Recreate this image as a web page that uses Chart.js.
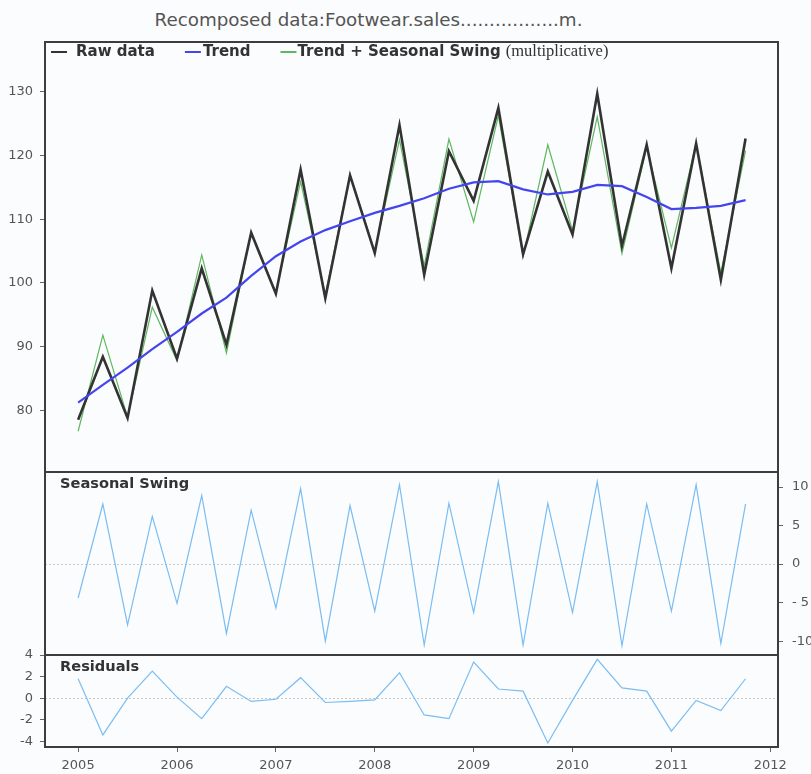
<!DOCTYPE html>
<html>
<head>
<meta charset="utf-8">
<script src="https://cdn.jsdelivr.net/npm/chart.js@4.4.1/dist/chart.umd.min.js"></script>
<style>
  html, body { margin: 0; padding: 0; background: #fbfcfd; }
  #wrap { position: relative; width: 811px; height: 774px; overflow: hidden; }
  #wrap canvas { position: absolute; left: 0; top: 0; }
  #title {
    position: absolute; left: 0; top: 9px; width: 737px; text-align: center;
    font: 18.3px "DejaVu Sans", sans-serif; color: #555; line-height: 22px; white-space: nowrap;
  }
</style>
</head>
<body>
<div id="wrap">
  <div id="title">Recomposed data:Footwear.sales.................m.</div>
  <canvas id="mainChart" width="811" height="774"></canvas>
  <canvas id="seasonChart" width="811" height="774"></canvas>
  <canvas id="residChart" width="811" height="774"></canvas>
</div>
<script>
// Quarterly periods
const quarters = [
  '2005Q1','2005Q2','2005Q3','2005Q4',
  '2006Q1','2006Q2','2006Q3','2006Q4',
  '2007Q1','2007Q2','2007Q3','2007Q4',
  '2008Q1','2008Q2','2008Q3','2008Q4',
  '2009Q1','2009Q2','2009Q3','2009Q4',
  '2010Q1','2010Q2','2010Q3','2010Q4',
  '2011Q1','2011Q2','2011Q3','2011Q4'
];

// Footwear sales, raw quarterly values
const rawData = [78.5, 88.4, 78.8, 98.8, 88.1, 102.3, 90.3, 107.9,
                 98.3, 117.8, 97.6, 116.9, 104.7, 124.8, 101.3, 120.7,
                 112.9, 127.5, 104.5, 117.5, 107.6, 129.7, 105.8, 121.7,
                 102.3, 121.9, 100.5, 122.7];

// Trend component
const trendData = [81.2, 84.0, 86.7, 89.6, 92.3, 95.2, 97.7, 101.1,
                   104.2, 106.5, 108.3, 109.7, 111.0, 112.1, 113.3, 114.8,
                   115.8, 116.0, 114.7, 113.9, 114.3, 115.4, 115.2, 113.5,
                   111.6, 111.8, 112.1, 113.0];

// Trend with seasonal swing applied
const trendSeasonalData = [76.7, 91.8, 78.9, 96.2, 87.8, 104.4, 89.0, 108.0,
                           98.5, 115.9, 98.2, 117.1, 104.9, 122.5, 102.7, 122.6,
                           109.6, 126.3, 104.2, 121.7, 108.2, 126.1, 104.6, 121.3,
                           105.5, 121.9, 101.6, 120.8];

// Seasonal swing component
const seasonalData = [-4.4, 7.8, -7.9, 6.2, -5.1, 8.9, -9.0, 7.0,
                      -5.7, 9.8, -10.0, 7.6, -6.1, 10.3, -10.5, 7.9,
                      -6.3, 10.7, -10.5, 7.9, -6.3, 10.7, -10.6, 7.8,
                      -6.1, 10.3, -10.3, 7.8];

// Residual component
const residualData = [1.8, -3.4, 0.0, 2.5, 0.1, -1.9, 1.1, -0.3,
                      -0.1, 1.9, -0.4, -0.3, -0.15, 2.35, -1.55, -1.9,
                      3.35, 0.85, 0.65, -4.15, -0.2, 3.6, 0.95, 0.65,
                      -3.05, -0.2, -1.15, 1.8];

// Axis ticks
const yearTicks = [2005, 2006, 2007, 2008, 2009, 2010, 2011, 2012];
const mainTicks = [80, 90, 100, 110, 120, 130];
const seasonalTicks = [-10, -5, 0, 5, 10];
const seasonalTickLabels = ['-10', '- 5', '0', '5', '10'];
const residualTicks = [-4, -2, 0, 2, 4];

// Convert a "YYYYQn" label to a decimal year position
function periodValue(q) {
  return parseInt(q.slice(0, 4), 10) + (parseInt(q.slice(5), 10) - 1) / 4;
}
function toPoints(values) {
  return values.map((v, i) => ({ x: periodValue(quarters[i]), y: v }));
}

Chart.defaults.font.family = '"DejaVu Sans", sans-serif';
Chart.defaults.font.size = 12;
Chart.defaults.color = '#555';

const X_MIN = 2004.665, X_MAX = 2012.078;
const FRAME = '#3d3d3d';

// Frame around each panel, optional dotted zero line and caption
const panelPlugin = {
  id: 'panel',
  beforeDatasetsDraw(chart, args, opts) {
    const { ctx, chartArea: a } = chart;
    if (opts.zeroLine) {
      const y = chart.scales.y.getPixelForValue(0);
      ctx.save();
      ctx.strokeStyle = '#c8c8c8';
      ctx.lineWidth = 1;
      ctx.setLineDash([2, 2]);
      ctx.beginPath();
      ctx.moveTo(a.left, Math.round(y) + 0.5);
      ctx.lineTo(a.right, Math.round(y) + 0.5);
      ctx.stroke();
      ctx.restore();
    }
  },
  afterDraw(chart, args, opts) {
    const { ctx, chartArea: a } = chart;
    ctx.save();
    ctx.strokeStyle = FRAME;
    ctx.lineWidth = 2;
    ctx.strokeRect(a.left, a.top, a.right - a.left, a.bottom - a.top);
    if (opts.caption) {
      ctx.fillStyle = '#333';
      ctx.font = 'bold 14.6px "DejaVu Sans", sans-serif';
      ctx.textBaseline = 'alphabetic';
      ctx.fillText(opts.caption, a.left + 15, a.top + 16);
    }
    ctx.restore();
  }
};

// Legend drawn inside the top-left corner of the main panel
const insideLegend = {
  id: 'insideLegend',
  afterDraw(chart, args, opts) {
    const { ctx, chartArea: a } = chart;
    const y = a.top + 10;
    let x = a.left + 6;
    ctx.save();
    ctx.textBaseline = 'middle';
    opts.items.forEach((idx, k) => {
      const ds = chart.data.datasets[idx];
      ctx.strokeStyle = ds.borderColor;
      ctx.lineWidth = 2;
      ctx.beginPath();
      ctx.moveTo(x, y);
      ctx.lineTo(x + 16, y);
      ctx.stroke();
      x += 16 + opts.gaps[k];
      ctx.fillStyle = '#333';
      ctx.font = 'bold 15px "DejaVu Sans", sans-serif';
      ctx.fillText(ds.label, x, y);
      x += ctx.measureText(ds.label).width;
      if (ds.note) {
        x += 5;
        ctx.font = '16.5px "Liberation Serif", serif';
        ctx.fillText(ds.note, x, y);
        x += ctx.measureText(ds.note).width;
      }
      x += 30;
    });
    ctx.restore();
  }
};

function xScale(show) {
  return {
    type: 'linear',
    min: X_MIN,
    max: X_MAX,
    display: show,
    afterBuildTicks(s) { s.ticks = yearTicks.map(v => ({ value: v })); },
    afterFit(s) { if (show) s.height = 27; },
    grid: { drawOnChartArea: false, drawTicks: true, tickLength: 5, tickColor: '#666' },
    border: { display: false },
    ticks: { padding: 6, font: { size: 13 }, color: '#555', maxRotation: 0, autoSkip: false,
             callback: v => String(v) }
  };
}

function yScale(opts) {
  return {
    type: 'linear',
    position: opts.position,
    min: opts.min,
    max: opts.max,
    afterBuildTicks(s) { s.ticks = opts.ticks.map(v => ({ value: v })); },
    afterFit(s) { s.width = opts.width; },
    grid: { drawOnChartArea: false, drawTicks: true, tickLength: 5, tickColor: '#666' },
    border: { display: false },
    ticks: { padding: opts.padding, font: { size: opts.size }, color: '#555', autoSkip: false,
             callback: opts.labels ? (v => opts.labels[opts.ticks.indexOf(v)]) : (v => String(v)) }
  };
}

const lineBase = { pointRadius: 0, pointHoverRadius: 0, tension: 0, fill: false };

// Main panel: raw data, trend, trend + seasonal swing
new Chart(document.getElementById('mainChart'), {
  type: 'line',
  data: {
    datasets: [
      Object.assign({ label: 'Raw data', data: toPoints(rawData), borderColor: '#333333',
                      borderWidth: 2.6, order: 1 }, lineBase),
      Object.assign({ label: 'Trend', data: toPoints(trendData), borderColor: '#4545f0',
                      borderWidth: 2.2, order: 0 }, lineBase),
      Object.assign({ label: 'Trend + Seasonal Swing', note: '(multiplicative)',
                      data: toPoints(trendSeasonalData), borderColor: '#5fb85f',
                      borderWidth: 1.2, order: 2 }, lineBase)
    ]
  },
  options: {
    responsive: false, animation: false, devicePixelRatio: 1,
    layout: { padding: { top: 42, right: 33, bottom: 302, left: 0 } },
    plugins: {
      legend: { display: false }, tooltip: { enabled: false },
      panel: {},
      insideLegend: { items: [0, 1, 2], gaps: [9, 2, 1] }
    },
    scales: {
      x: xScale(false),
      y: yScale({ position: 'left', min: 70.3, max: 137.85, ticks: mainTicks, width: 45, padding: 7, size: 13 })
    }
  },
  plugins: [panelPlugin, insideLegend]
});

// Seasonal swing panel
new Chart(document.getElementById('seasonChart'), {
  type: 'line',
  data: {
    datasets: [
      Object.assign({ label: 'Seasonal Swing', data: toPoints(seasonalData),
                      borderColor: '#7bbdf2', borderWidth: 1.2 }, lineBase)
    ]
  },
  options: {
    responsive: false, animation: false, devicePixelRatio: 1,
    layout: { padding: { top: 472, right: 0, bottom: 119, left: 45 } },
    plugins: {
      legend: { display: false }, tooltip: { enabled: false },
      panel: { zeroLine: true, caption: 'Seasonal Swing' }
    },
    scales: {
      x: xScale(false),
      y: yScale({ position: 'right', min: -11.8, max: 11.95, ticks: seasonalTicks,
                  labels: seasonalTickLabels, width: 33, padding: 9, size: 13 })
    }
  },
  plugins: [panelPlugin]
});

// Residuals panel with the shared time axis
new Chart(document.getElementById('residChart'), {
  type: 'line',
  data: {
    datasets: [
      Object.assign({ label: 'Residuals', data: toPoints(residualData),
                      borderColor: '#7bbdf2', borderWidth: 1.2 }, lineBase)
    ]
  },
  options: {
    responsive: false, animation: false, devicePixelRatio: 1,
    layout: { padding: { top: 655, right: 33, bottom: 0, left: 0 } },
    plugins: {
      legend: { display: false }, tooltip: { enabled: false },
      panel: { zeroLine: true, caption: 'Residuals' }
    },
    scales: {
      x: xScale(true),
      y: yScale({ position: 'left', min: -4.52, max: 4.0, ticks: residualTicks, width: 45, padding: 7, size: 13 })
    }
  },
  plugins: [panelPlugin]
});
</script>
</body>
</html>
